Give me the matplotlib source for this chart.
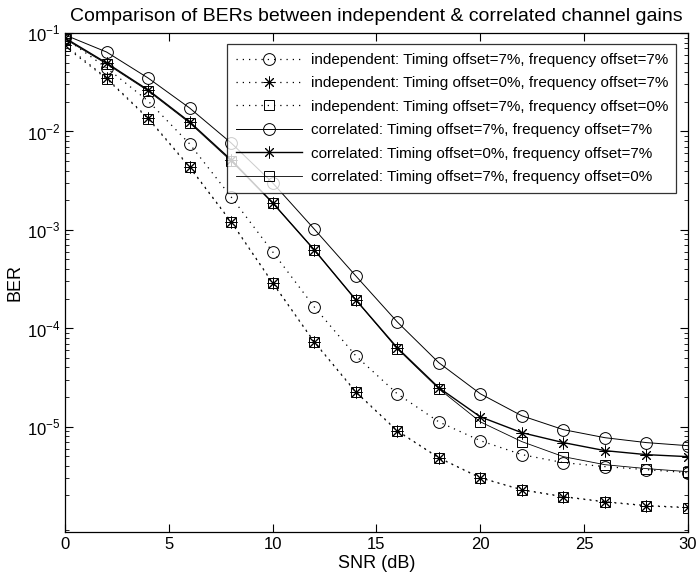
import numpy as np
import matplotlib
matplotlib.use("Agg")
import matplotlib.pyplot as plt
from matplotlib.ticker import LogLocator, NullFormatter, FixedLocator

plt.rcParams['font.family'] = ['Liberation Sans', 'DejaVu Sans']
plt.rcParams['mathtext.fontset'] = 'custom'
plt.rcParams['mathtext.rm'] = 'Liberation Sans'

snr_db = [0, 2, 4, 6, 8, 10, 12, 14, 16, 18, 20, 22, 24, 26, 28, 30]

indep_t7_f7 = [0.0889, 0.0442, 0.0204, 7.47e-3, 2.16e-3, 5.98e-4, 1.65e-4, 5.26e-5,
               2.16e-5, 1.12e-5, 7.21e-6, 5.20e-6, 4.31e-6, 3.93e-6, 3.66e-6, 3.41e-6]
indep_t0_f7 = [0.0755, 0.0349, 0.0137, 4.37e-3, 1.21e-3, 2.90e-4, 7.30e-5, 2.27e-5,
               9.10e-6, 4.84e-6, 3.03e-6, 2.29e-6, 1.95e-6, 1.73e-6, 1.58e-6, 1.51e-6]
indep_t7_f0 = [0.0730, 0.0343, 0.0135, 4.32e-3, 1.20e-3, 2.88e-4, 7.25e-5, 2.25e-5,
               9.05e-6, 4.82e-6, 3.02e-6, 2.28e-6, 1.94e-6, 1.72e-6, 1.57e-6, 1.50e-6]
corr_t7_f7 = [0.0955, 0.0641, 0.0349, 0.0173, 7.64e-3, 3.00e-3, 1.02e-3, 3.41e-4,
              1.16e-4, 4.47e-5, 2.16e-5, 1.29e-5, 9.33e-6, 7.73e-6, 6.89e-6, 6.41e-6]
corr_t0_f7 = [0.0889, 0.0496, 0.0264, 0.0125, 5.14e-3, 1.88e-3, 6.27e-4, 1.95e-4,
              6.34e-5, 2.49e-5, 1.26e-5, 8.69e-6, 6.89e-6, 5.71e-6, 5.20e-6, 4.96e-6]
corr_t7_f0 = [0.0869, 0.0485, 0.0258, 0.0122, 5.00e-3, 1.88e-3, 6.27e-4, 1.95e-4,
              6.20e-5, 2.43e-5, 1.12e-5, 7.05e-6, 4.96e-6, 4.11e-6, 3.75e-6, 3.49e-6]

labels = [
    "independent: Timing offset=7%, frequency offset=7%",
    "independent: Timing offset=0%, frequency offset=7%",
    "independent: Timing offset=7%, frequency offset=0%",
    "correlated: Timing offset=7%, frequency offset=7%",
    "correlated: Timing offset=0%, frequency offset=7%",
    "correlated: Timing offset=7%, frequency offset=0%",
]

asterisk = (8, 2, 0)
dotted = (0, (1, 4))

fig = plt.figure(figsize=(6.97, 5.75), dpi=100)
ax = fig.add_axes([0.0933, 0.0748, 0.8937, 0.8678])

series = [
    (indep_t7_f7, 'o', dotted, 0.9, 8.5),
    (indep_t0_f7, asterisk, dotted, 0.9, 8.5),
    (indep_t7_f0, 's', dotted, 0.9, 7),
    (corr_t7_f7, 'o', '-', 0.7, 8.5),
    (corr_t0_f7, asterisk, '-', 1.0, 8.5),
    (corr_t7_f0, 's', '-', 0.6, 7),
]

for (vals, mk, ls, lw, ms), lab in zip(series, labels):
    ax.semilogy(snr_db, vals, linestyle=ls, linewidth=lw, color='black',
                marker=mk, markersize=ms, markerfacecolor='none',
                markeredgecolor='black', markeredgewidth=0.7, label=lab)

ax.set_xlim(0, 30)
ax.set_ylim(10 ** -6.07, 1e-1)
ax.set_xticks([0, 5, 10, 15, 20, 25, 30])
ax.yaxis.set_major_locator(FixedLocator([1e-1, 1e-2, 1e-3, 1e-4, 1e-5]))
ax.yaxis.set_minor_locator(LogLocator(base=10, subs=np.arange(2, 10), numticks=20))
ax.yaxis.set_minor_formatter(NullFormatter())
ax.set_yticklabels([r'$10^{-1}$', r'$10^{-2}$', r'$10^{-3}$', r'$10^{-4}$', r'$10^{-5}$'])

ax.tick_params(axis='both', which='both', direction='in', top=True, right=True)
ax.tick_params(axis='both', which='major', length=6, width=0.8, labelsize=12)
ax.tick_params(axis='y', which='minor', length=3, width=0.6)
for s in ax.spines.values():
    s.set_linewidth(0.9)

ax.set_xlabel("SNR (dB)", fontsize=13, labelpad=2)
ax.set_ylabel("BER", fontsize=13, labelpad=2)
ax.set_title("Comparison of BERs between independent & correlated channel gains",
             fontsize=14, pad=9)

leg = ax.legend(loc='upper right', fontsize=11, frameon=True, fancybox=False,
                edgecolor='black', handlelength=4.3, handletextpad=0.6,
                borderaxespad=0.75, labelspacing=0.62, borderpad=0.55)
leg.get_frame().set_linewidth(0.9)

fig.savefig("out.png", dpi=100)
